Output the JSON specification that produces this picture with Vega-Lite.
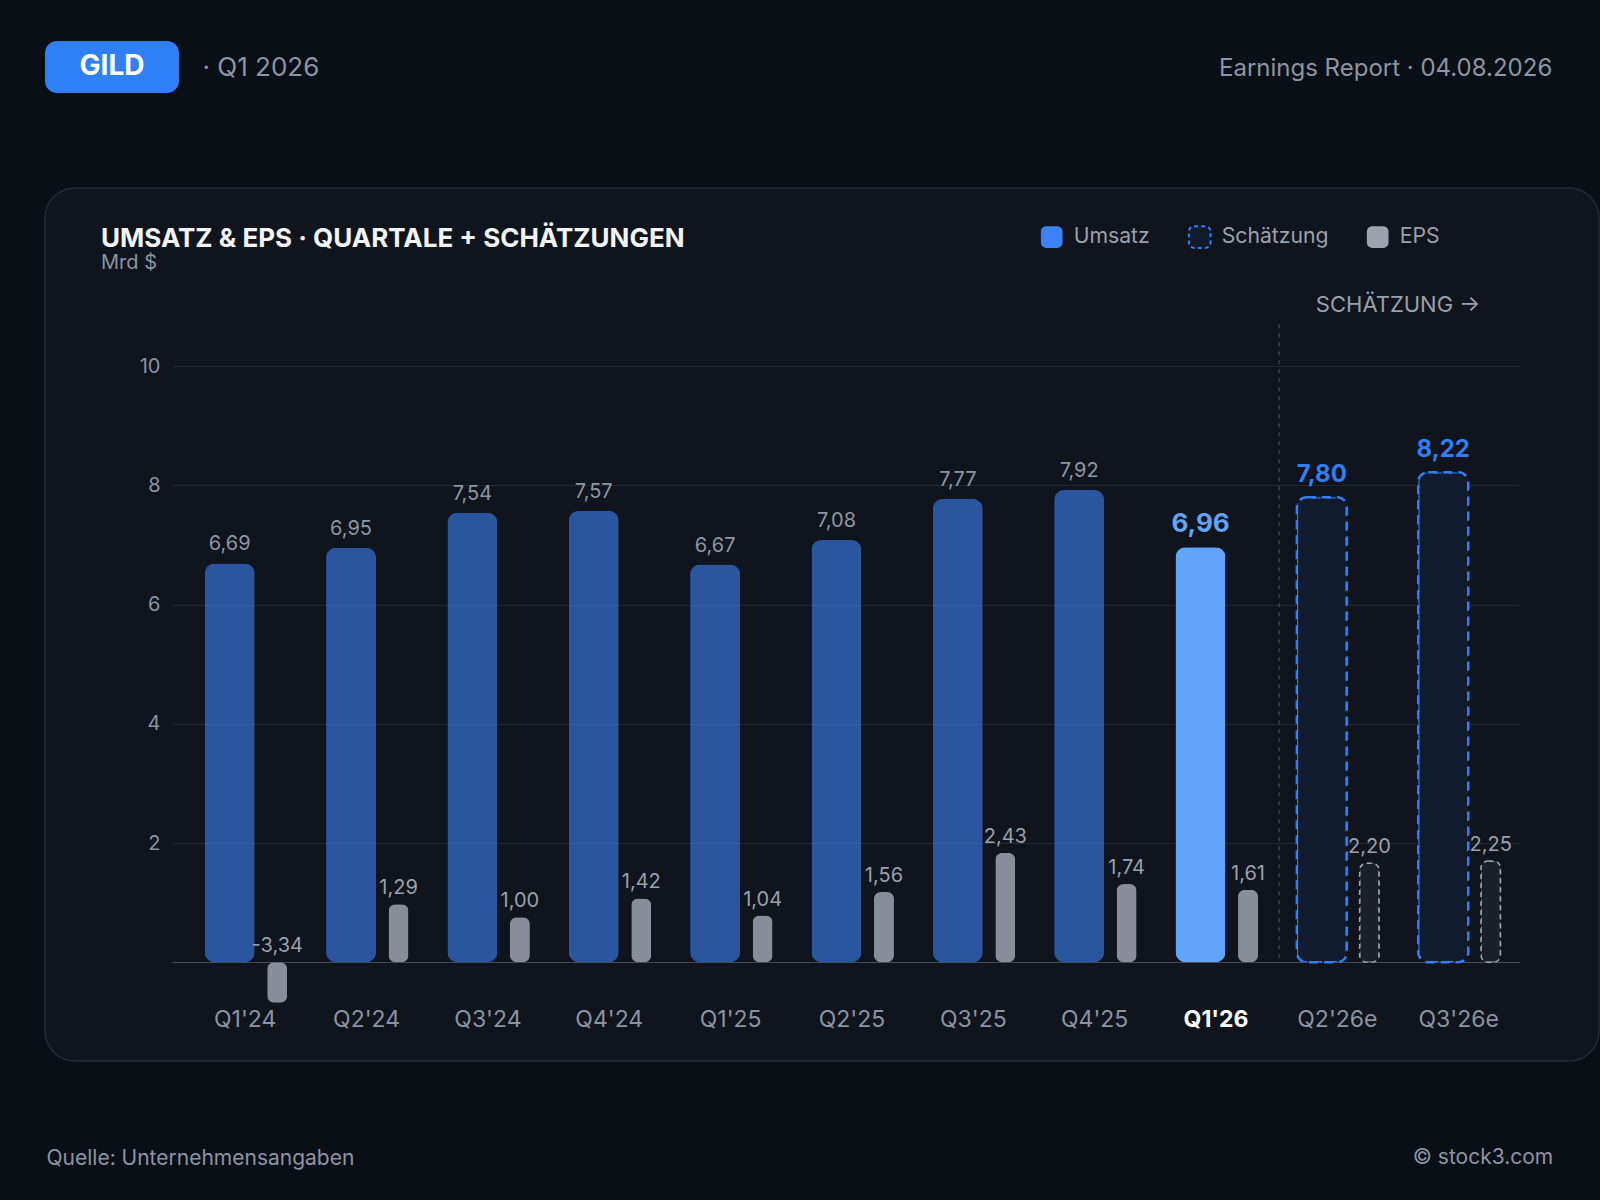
{
  "$schema": "https://vega.github.io/schema/vega-lite/v6.json",
  "background": "#0a0e15",
  "padding": {"left": 44, "top": 41, "right": 12, "bottom": 60},
  "bounds": "flush",
  "spacing": 95,
  "config": {
    "font": "Inter",
    "locale": {"number": {"decimal": ",", "thousands": ".", "grouping": [3], "currency": ["", " €"], "minus": "-"}},
    "view": {"stroke": null}
  },
  "vconcat": [
    {
      "width": 134,
      "height": 52,
      "view": {"fill": "#2f7ff6", "cornerRadius": 12, "stroke": null},
      "data": {"values": [{"ticker": "GILD"}]},
      "title": {
        "text": "Earnings Report · 04.08.2026",
        "orient": "right",
        "angle": 0,
        "align": "right",
        "baseline": "middle",
        "anchor": "middle",
        "offset": 1040,
        "dy": 2,
        "fontSize": 24,
        "fontWeight": "normal",
        "color": "#8d95a2"
      },
      "mark": {"type": "text", "fontSize": 28, "fontWeight": "bold", "color": "#ffffff"},
      "encoding": {"text": {"field": "ticker"}}
    },
    {
      "width": 1554,
      "height": 873,
      "view": {"fill": "#10141c", "stroke": "#232935", "strokeWidth": 1.5, "cornerRadius": 30},
      "data": {
        "values": [
          {"quartal": "Q1'24", "umsatz": 6.69, "eps": -3.34, "status": "ist", "typ": "Umsatz"},
          {"quartal": "Q2'24", "umsatz": 6.95, "eps": 1.29, "status": "ist", "typ": "Umsatz"},
          {"quartal": "Q3'24", "umsatz": 7.54, "eps": 1.00, "status": "ist", "typ": "Umsatz"},
          {"quartal": "Q4'24", "umsatz": 7.57, "eps": 1.42, "status": "ist", "typ": "Umsatz"},
          {"quartal": "Q1'25", "umsatz": 6.67, "eps": 1.04, "status": "ist", "typ": "Umsatz"},
          {"quartal": "Q2'25", "umsatz": 7.08, "eps": 1.56, "status": "ist", "typ": "Umsatz"},
          {"quartal": "Q3'25", "umsatz": 7.77, "eps": 2.43, "status": "ist", "typ": "Umsatz"},
          {"quartal": "Q4'25", "umsatz": 7.92, "eps": 1.74, "status": "ist", "typ": "Umsatz"},
          {"quartal": "Q1'26", "umsatz": 6.96, "eps": 1.61, "status": "aktuell", "typ": "Umsatz"},
          {"quartal": "Q2'26e", "umsatz": 7.80, "eps": 2.20, "status": "schätzung", "typ": "Schätzung"},
          {"quartal": "Q3'26e", "umsatz": 8.22, "eps": 2.25, "status": "schätzung", "typ": "Schätzung"}
        ]
      },
      "title": {
        "text": "UMSATZ & EPS · QUARTALE + SCHÄTZUNGEN",
        "subtitle": "Mrd $",
        "anchor": "start",
        "frame": "group",
        "dx": 56,
        "offset": -219,
        "baseline": "top",
        "fontSize": 26,
        "fontWeight": 700,
        "color": "#f3f4f6",
        "subtitleFontSize": 20,
        "subtitleColor": "#8b93a0",
        "subtitlePadding": 1
      },
      "encoding": {
        "x": {
          "field": "quartal",
          "type": "nominal",
          "sort": null,
          "scale": {"range": [127.4, 1474.4], "paddingInner": 0, "paddingOuter": 0.05, "align": 1},
          "axis": {
            "orient": "bottom",
            "offset": -52,
            "labelPadding": 10,
            "labelBaseline": "middle",
            "labelAngle": 0,
            "labelFontSize": 23,
            "labelColor": {"condition": {"test": "datum.value === \"Q1'26\"", "value": "#ffffff"}, "value": "#8b93a0"},
            "labelFontWeight": {"condition": {"test": "datum.value === \"Q1'26\"", "value": "bold"}, "value": "normal"},
            "ticks": false,
            "tickSize": 0,
            "domain": false,
            "grid": false,
            "title": "Quelle: Unternehmensangaben",
            "titleX": 1,
            "titleY": 149,
            "titleAlign": "left",
            "titleAnchor": "start",
            "titleBaseline": "middle",
            "titleFontSize": 21,
            "titleFontWeight": "normal",
            "titleColor": "#8d95a2"
          }
        }
      },
      "layer": [
        {
          "encoding": {
            "y": {
              "field": "umsatz",
              "type": "quantitative",
              "scale": {"domain": [0, 10], "range": [774.3, 178], "nice": false, "zero": true},
              "axis": {
                "orient": "left",
                "offset": -127.4,
                "values": [0, 2, 4, 6, 8, 10],
                "labelExpr": "datum.value === 0 ? '' : datum.label",
                "labelPadding": 12.4,
                "labelFontSize": 20,
                "labelColor": "#8b93a0",
                "labelBaseline": "middle",
                "ticks": false,
                "tickSize": 0,
                "domain": false,
                "grid": true,
                "gridColor": {"condition": {"test": "datum.value === 0", "value": "#454b56"}, "value": "#232933"},
                "gridWidth": 1.2,
                "title": "· Q1 2026",
                "titleAngle": 0,
                "titleX": 29.6,
                "titleY": -121,
                "titleAlign": "left",
                "titleBaseline": "middle",
                "titleFontSize": 26,
                "titleFontWeight": "normal",
                "titleColor": "#8d95a2"
              }
            }
          },
          "layer": [
            {
              "transform": [{"filter": "datum.status !== 'schätzung'"}],
              "mark": {"type": "bar", "width": 50, "xOffset": -15.5, "cornerRadius": 10},
              "encoding": {
                "color": {
                  "condition": {"test": "datum.status === 'aktuell'", "value": "#60a5fa"},
                  "field": "typ",
                  "type": "nominal",
                  "scale": {"domain": ["Umsatz", "Schätzung", "EPS"], "range": ["#3b82f6", "#111b2e", "#9ca3af"]},
                  "legend": {
                    "orient": "none",
                    "legendX": 994.7,
                    "legendY": 184,
                    "direction": "horizontal",
                    "title": null,
                    "padding": 0,
                    "symbolType": "M-0.5,-1H0.5C0.78,-1 1,-0.78 1,-0.5V0.5C1,0.78 0.78,1 0.5,1H-0.5C-0.78,1 -1,0.78 -1,0.5V-0.5C-1,-0.78 -0.78,-1 -0.5,-1Z",
                    "symbolSize": 470,
                    "symbolOpacity": 1,
                    "labelFontSize": 21.2,
                    "labelColor": "#9aa1ad",
                    "labelOffset": 10,
                    "columnPadding": 34,
                    "encode": {
                      "symbols": {
                        "update": {
                          "stroke": {"signal": "datum.value === 'Schätzung' ? '#2f80f7' : 'transparent'"},
                          "strokeWidth": {"value": 2},
                          "strokeDash": {"signal": "datum.value === 'Schätzung' ? [4, 3] : [1, 0]"},
                          "opacity": {"value": 1}
                        }
                      }
                    }
                  }
                },
                "opacity": {"condition": {"test": "datum.status === 'aktuell'", "value": 1}, "value": 0.6}
              }
            },
            {
              "transform": [{"filter": "datum.status === 'schätzung'"}],
              "mark": {"type": "bar", "width": 50, "xOffset": -15.5, "cornerRadius": 10, "stroke": "#2f80f7", "strokeWidth": 2.5, "strokeDash": [9, 6]},
              "encoding": {"color": {"field": "typ", "type": "nominal"}}
            },
            {
              "transform": [{"filter": "datum.status === 'ist'"}],
              "mark": {"type": "text", "xOffset": -15.5, "dy": -13, "baseline": "alphabetic", "fontSize": 20, "color": "#8e96a2"},
              "encoding": {"text": {"field": "umsatz", "type": "quantitative", "format": ".2f"}}
            },
            {
              "transform": [{"filter": "datum.status !== 'ist'"}],
              "mark": {"type": "text", "xOffset": -15.5, "dy": -15, "baseline": "alphabetic", "fontWeight": "bold"},
              "encoding": {
                "text": {"field": "umsatz", "type": "quantitative", "format": ".2f"},
                "color": {"condition": {"test": "datum.status === 'aktuell'", "value": "#60a5fa"}, "value": "#2f80f7"},
                "size": {"condition": {"test": "datum.status === 'aktuell'", "value": 26}, "value": 24}
              }
            },
            {
              "transform": [{"filter": "datum.quartal === \"Q2'26e\""}],
              "mark": {"type": "rule", "color": "#3a404b", "strokeDash": [4, 5], "strokeWidth": 1.5},
              "encoding": {
                "x": {"field": "quartal", "type": "nominal", "bandPosition": 0.02},
                "y": {"datum": 10.7},
                "y2": {"datum": 0}
              }
            },
            {
              "transform": [{"filter": "datum.quartal === \"Q3'26e\""}],
              "mark": {"type": "text", "text": "SCHÄTZUNG →", "fontSize": 22, "color": "#9aa0ab", "baseline": "middle"},
              "encoding": {
                "x": {"field": "quartal", "type": "nominal", "bandPosition": 0},
                "y": {"datum": 11.02}
              }
            }
          ]
        },
        {
          "encoding": {
            "y": {
              "field": "eps",
              "type": "quantitative",
              "scale": {"domain": [-0.9, 10], "range": [814.8, 324.3], "nice": false, "zero": true, "clamp": true},
              "axis": {
                "orient": "right",
                "labels": false,
                "ticks": false,
                "domain": false,
                "grid": false,
                "title": "© stock3.com",
                "titleAngle": 0,
                "titleX": -46.3,
                "titleY": 969,
                "titleAlign": "right",
                "titleBaseline": "middle",
                "titleFontSize": 21,
                "titleFontWeight": "normal",
                "titleColor": "#8d95a2"
              }
            }
          },
          "layer": [
            {
              "transform": [{"filter": "datum.status !== 'schätzung'"}],
              "mark": {"type": "bar", "width": 20, "xOffset": 32, "cornerRadius": 7, "opacity": 0.85},
              "encoding": {"color": {"datum": "EPS", "type": "nominal"}}
            },
            {
              "transform": [{"filter": "datum.status === 'schätzung'"}],
              "mark": {"type": "bar", "width": 19.5, "xOffset": 32, "cornerRadius": 7, "fill": "#1b1f28", "stroke": "#a0a6b0", "strokeWidth": 1.5, "strokeDash": [5, 4]}
            },
            {
              "transform": [{"filter": "datum.eps >= 0"}],
              "mark": {"type": "text", "xOffset": 32, "dy": -10, "baseline": "alphabetic", "fontSize": 20, "color": "#9aa1ab"},
              "encoding": {"text": {"field": "eps", "type": "quantitative", "format": ".2f"}}
            },
            {
              "transform": [{"filter": "datum.eps < 0"}],
              "mark": {"type": "text", "xOffset": 32, "dy": -10, "baseline": "alphabetic", "fontSize": 20, "color": "#9aa1ab"},
              "encoding": {
                "y": {"datum": 0},
                "text": {"field": "eps", "type": "quantitative", "format": ".2f"}
              }
            }
          ]
        }
      ],
      "resolve": {"scale": {"y": "independent"}}
    }
  ]
}
